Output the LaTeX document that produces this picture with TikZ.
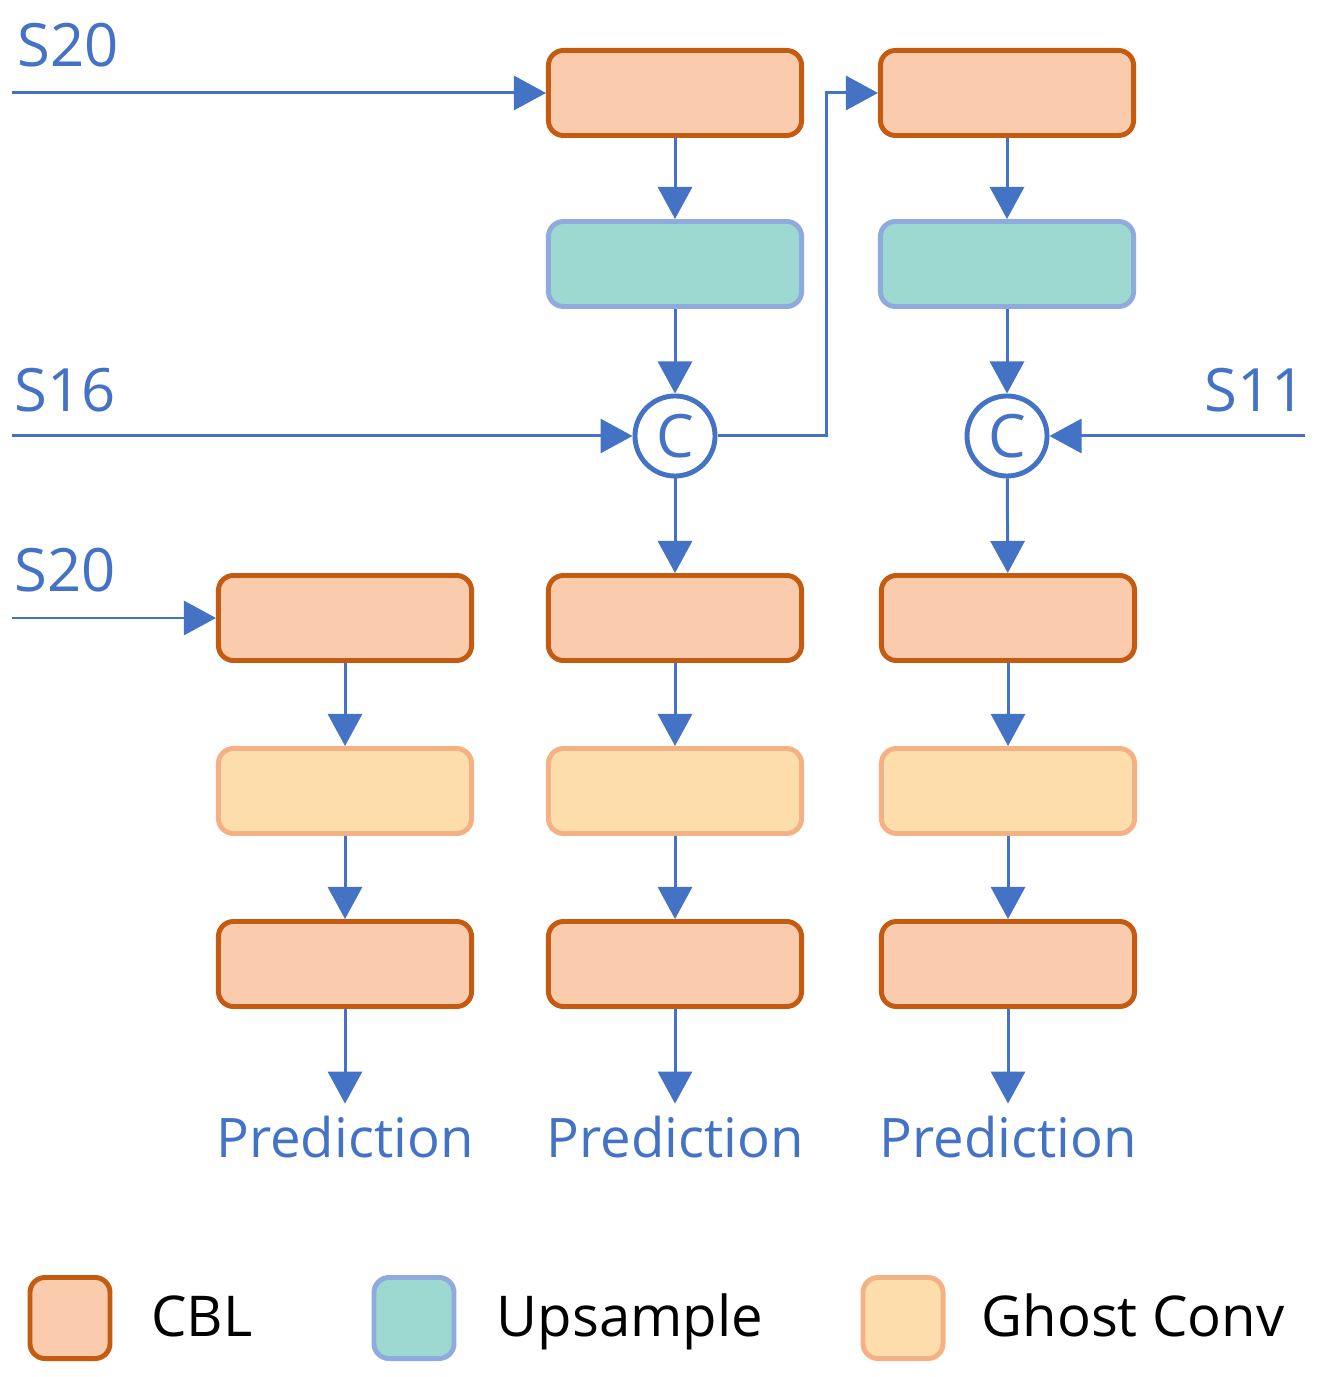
\documentclass[tikz,border=0pt]{standalone}
\usepackage{fontspec}
\setmainfont{Open Sans}
\usetikzlibrary{arrows.meta,positioning}
\definecolor{cblfill}{RGB}{251,203,173}
\definecolor{cbldraw}{RGB}{197,90,17}
\definecolor{upfill}{RGB}{157,217,208}
\definecolor{updraw}{RGB}{143,170,220}
\definecolor{ghfill}{RGB}{252,221,171}
\definecolor{ghdraw}{RGB}{244,177,131}
\definecolor{flowblue}{RGB}{68,114,196}

\begin{document}
\begin{tikzpicture}[x=0.01cm,y=-0.01cm,
    >={Triangle[length=0.32cm,width=0.34cm]},
    blk/.style={rounded corners=0.15cm,line width=1.4pt,minimum width=2.53cm,minimum height=0.85cm,inner sep=0pt},
    cbl/.style={blk,fill=cblfill,draw=cbldraw},
    ups/.style={blk,fill=upfill,draw=updraw},
    ghost/.style={blk,fill=ghfill,draw=ghdraw},
    cat/.style={circle,draw=flowblue,line width=1.4pt,fill=white,minimum size=0.80cm,inner sep=0pt,text=flowblue,font=\fontsize{17}{17}\selectfont},
    flow/.style={flowblue,line width=0.85pt},
    lbl/.style={text=flowblue,font=\fontsize{15.5}{16}\selectfont},
    key/.style={rounded corners=0.15cm,line width=1.4pt,minimum width=0.80cm,minimum height=0.81cm,inner sep=0pt},
    keytext/.style={font=\fontsize{16}{17}\selectfont,anchor=base}]
    \useasboundingbox (0,0) rectangle (1317,1377);
    % upper part
    \node[cbl] (cblA) at (675,93) {};
    \node[ups] (upA) at (675,264) {};
    \node[cat] (catA) at (675,436) {C};
    \node[cbl] (cblB) at (1007,93) {};
    \node[ups] (upB) at (1007,264) {};
    \node[cat] (catB) at (1007,436) {C};
    % heads
    \foreach \col/\x in {L/345,M/675,R/1008}{
        \node[cbl] (head1\col) at (\x,618) {};
        \node[ghost] (head2\col) at (\x,791) {};
        \node[cbl] (head3\col) at (\x,964) {};
        \node[lbl] (pred\col) at (\x,1137) {Prediction};
        \draw[flow,->] (head1\col) -- (head2\col);
        \draw[flow,->] (head2\col) -- (head3\col);
        \draw[flow,->] (head3\col) -- (pred\col);
    }
    % inputs
    \node[lbl,font=\fontsize{17}{18}\selectfont] (s20a) at (68,45) {S20};
    \node[lbl,font=\fontsize{17}{18}\selectfont] (s16) at (65,390) {S16};
    \node[lbl,font=\fontsize{17}{18}\selectfont] (s20b) at (65,570) {S20};
    \node[lbl,font=\fontsize{17}{18}\selectfont] (s11) at (1255,390) {S11};
    \coordinate (inA) at (12,93);
    \coordinate (inB) at (12,436);
    \coordinate (inC) at (12,618);
    \coordinate (inD) at (1305,436);
    \coordinate (bend) at (826,436);
    \draw[flow,->] (inA) -- (cblA);
    \draw[flow,->] (inB) -- (catA);
    \draw[flow,->] (inC) -- (head1L);
    \draw[flow,->] (inD) -- (catB);
    \draw[flow,->] (cblA) -- (upA);
    \draw[flow,->] (upA) -- (catA);
    \draw[flow,->] (catA) -- (head1M);
    \draw[flow,->] (cblB) -- (upB);
    \draw[flow,->] (upB) -- (catB);
    \draw[flow,->] (catB) -- (head1R);
    \draw[flow,->] (catA.east) -- (bend) |- (cblB.west);
    % legend
    \node[key,fill=cblfill,draw=cbldraw] (keyA) at (70,1318) {};
    \node[keytext] (keyAt) at (202,1336) {CBL};
    \node[key,fill=upfill,draw=updraw] (keyB) at (414,1318) {};
    \node[keytext] (keyBt) at (630,1336) {Upsample};
    \node[key,fill=ghfill,draw=ghdraw] (keyC) at (903,1318) {};
    \node[keytext] (keyCt) at (1133,1336) {Ghost Conv};
\end{tikzpicture}
\end{document}
